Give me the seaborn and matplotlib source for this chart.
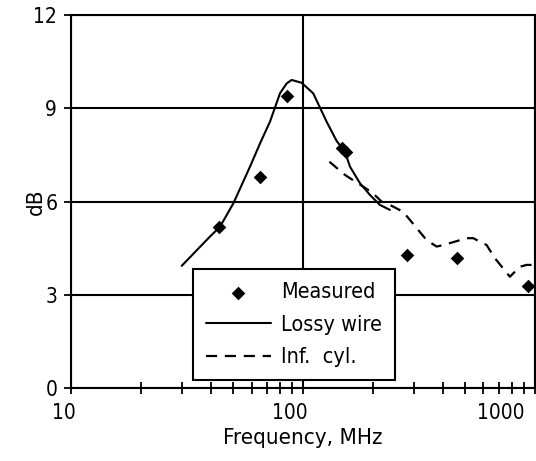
import numpy as np
import pandas as pd
import matplotlib
matplotlib.use("Agg")
import matplotlib.pyplot as plt
import matplotlib.transforms as mtransforms
from matplotlib.ticker import FixedLocator, NullFormatter
import seaborn as sns

# measured points
meas_f = [43.5, 65.5, 85.0, 147, 154, 280, 462, 930]
meas_db = [5.18, 6.79, 9.40, 7.72, 7.58, 4.28, 4.17, 3.28]

# lossy wire model
wire_f = [30, 39.7, 43.9, 50.1, 59.1, 65.3, 72.1, 79.6, 85.1, 89.4, 98.6,
          110.7, 126.4, 139.6, 151.7, 159.5, 176, 194.5, 214.7, 237]
wire_db = [3.93, 4.87, 5.19, 5.94, 7.12, 7.87, 8.57, 9.48, 9.80, 9.91, 9.82,
           9.48, 8.57, 7.95, 7.60, 7.12, 6.59, 6.21, 5.89, 5.73]

# infinite cylinder model
cyl_f = [130, 152, 186, 200, 218, 237, 270, 289, 341, 377, 403, 508, 542,
         619, 673, 780, 861, 920, 1000]
cyl_db = [7.28, 6.85, 6.43, 6.27, 6.00, 5.89, 5.67, 5.41, 4.76, 4.55, 4.60,
          4.82, 4.82, 4.60, 4.17, 3.58, 3.90, 3.96, 3.96]

sns.set_style("white")
plt.rcParams['font.family'] = ['DejaVu Sans']
plt.rcParams['font.stretch'] = 'condensed'
plt.rcParams['text.color'] = 'black'
plt.rcParams['axes.labelcolor'] = 'black'
plt.rcParams['xtick.color'] = 'black'
plt.rcParams['ytick.color'] = 'black'

fig = plt.figure(figsize=(5.36, 4.61), dpi=100)
ax = fig.add_axes([0.1325, 0.1583, 0.8655, 0.8092])

wire = pd.DataFrame({"f": wire_f, "db": wire_db})
cyl = pd.DataFrame({"f": cyl_f, "db": cyl_db})
meas = pd.DataFrame({"f": meas_f, "db": meas_db})

sns.scatterplot(data=meas, x="f", y="db", marker="D", s=48, color="black",
                edgecolor="black", linewidth=0, ax=ax, label="Measured", zorder=4)
sns.lineplot(data=wire, x="f", y="db", sort=False, estimator=None, color="black",
             lw=1.5, ax=ax, label="Lossy wire", zorder=3)
sns.lineplot(data=cyl, x="f", y="db", sort=False, estimator=None, color="black",
             lw=1.6, ax=ax, label="Inf.  cyl.", zorder=3)
ax.lines[-1].set_dashes((5, 3.5))

ax.set_xscale("log")
ax.set_xlim(10, 1000)
ax.set_ylim(0, 12)
ax.set_yticks([0, 3, 6, 9, 12])
ax.set_xticks([10, 100, 1000])
ax.set_xticklabels(["10", "100", "1000"])
ax.xaxis.set_minor_locator(FixedLocator(
    [v * d for d in (10, 100) for v in range(2, 10)]))
ax.xaxis.set_minor_formatter(NullFormatter())

ax.grid(True, which="major", color="black", lw=1.5)
for s in ax.spines.values():
    s.set_color("black")
    s.set_linewidth(1.5)

ax.tick_params(axis="x", which="both", direction="inout", length=9, width=1.3,
               color="black", bottom=True, labelsize=15, pad=6)
ax.tick_params(axis="y", which="major", direction="inout", length=10, width=1.3,
               color="black", left=True, labelsize=15, pad=5)

for lab in ax.get_xticklabels():
    lab.set_horizontalalignment("right")
    lab.set_transform(lab.get_transform() +
                      mtransforms.ScaledTranslation(5 / 100, 0, fig.dpi_scale_trans))
ax.get_xticklabels()[-1].set_transform(
    ax.get_xticklabels()[-1].get_transform() +
    mtransforms.ScaledTranslation(-15 / 100, 0, fig.dpi_scale_trans))

ax.set_xlabel("Frequency, MHz", fontsize=16, labelpad=4)
ax.set_ylabel("dB", fontsize=16)
ax.yaxis.set_label_coords(-0.055, 0.5)

leg = ax.legend(loc="lower left", bbox_to_anchor=(0.263, 0.021), fontsize=15.5,
                frameon=True, fancybox=False, framealpha=1, edgecolor="black",
                handlelength=3.0, handletextpad=0.5, borderpad=0.6,
                labelspacing=0.58, borderaxespad=0)
leg.get_frame().set_linewidth(1.5)
leg.set_zorder(10)

fig.savefig("out.png", dpi=100)
